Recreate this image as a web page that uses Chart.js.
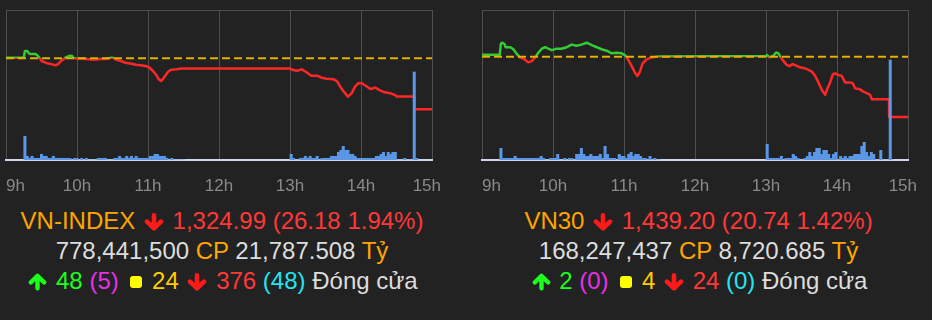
<!DOCTYPE html>
<html lang="vi">
<head>
<meta charset="utf-8">
<script src="https://cdn.jsdelivr.net/npm/chart.js@4.4.0/dist/chart.umd.min.js"></script>
<style>
  html, body { margin: 0; padding: 0; background: #222; width: 932px; height: 320px; overflow: hidden; }
  .box { position: absolute; top: 0; width: 466px; height: 200px; }
  .info { position: absolute; top: 206px; font: 24px/30px "Liberation Sans", Arial, sans-serif; color: #ddd; text-align: center; white-space: nowrap; }
  .or { color: #ffa500; }
  .rd { color: #ff3838; }
  .gr { color: #1cff1c; }
  .mg { color: #e830e8; }
  .yl { color: #ffcc00; }
  .cy { color: #22e5f0; }
  .arr { vertical-align: -2px; margin: 0 2px; fill: none; stroke-width: 4.6; stroke-linecap: round; stroke-linejoin: round; }
  .dn { stroke: #ff1a1a; }
  .up { stroke: #1cff1c; }
  .sq { display: inline-block; width: 12px; height: 12px; background: #ffff00; border-radius: 3px; vertical-align: 1px; margin: 0 3px 0 5px; }
</style>
</head>
<body>
<div class="box" style="left:0"><canvas id="vnindex" width="466" height="200"></canvas></div>
<div class="box" style="left:476px"><canvas id="vn30" width="466" height="200"></canvas></div>

<div class="info" style="left:0;width:444px">
  <div><span class="or">VN-INDEX</span> <svg class="arr dn" viewBox="0 0 20 18" width="20" height="18"><path d="M10 2.3V15.2M3 8.6L10 15.4L17 8.6"/></svg> <span class="rd">1,324.99 (26.18 1.94%)</span></div>
  <div>778,441,500 <span class="or">CP</span> 21,787.508 <span class="or">Tỷ</span></div>
  <div><svg class="arr up" viewBox="0 0 20 18" width="19" height="18"><path d="M10 15.7V2.8M3 9.4L10 2.6L17 9.4"/></svg> <span class="gr">48</span> <span class="mg">(5)</span> <span class="sq"></span> <span class="yl">24</span> <svg class="arr dn" viewBox="0 0 20 18" width="20" height="18"><path d="M10 2.3V15.2M3 8.6L10 15.4L17 8.6"/></svg> <span class="rd">376</span> <span class="cy">(48)</span> Đóng cửa</div>
</div>

<div class="info" style="left:476px;width:445px">
  <div><span class="or">VN30</span> <svg class="arr dn" viewBox="0 0 20 18" width="20" height="18"><path d="M10 2.3V15.2M3 8.6L10 15.4L17 8.6"/></svg> <span class="rd">1,439.20 (20.74 1.42%)</span></div>
  <div>168,247,437 <span class="or">CP</span> 8,720.685 <span class="or">Tỷ</span></div>
  <div><svg class="arr up" viewBox="0 0 20 18" width="19" height="18"><path d="M10 15.7V2.8M3 9.4L10 2.6L17 9.4"/></svg> <span class="gr">2</span> <span class="mg">(0)</span> <span class="sq"></span> <span class="yl">4</span> <svg class="arr dn" viewBox="0 0 20 18" width="20" height="18"><path d="M10 2.3V15.2M3 8.6L10 15.4L17 8.6"/></svg> <span class="rd">24</span> <span class="cy">(0)</span> Đóng cửa</div>
</div>

<script>
// thoi gian tinh bang phut ke tu 9h00
const hourTicks = ['9h', '10h', '11h', '12h', '13h', '14h', '15h'];

// VN-INDEX
const vnRef = 1351.17;
const vnTimes = [0, 15, 16, 18, 19, 20, 25, 27, 29, 30, 34, 38, 42, 44, 46, 49, 51, 54, 56, 57, 60, 62, 68, 72, 76, 80, 85, 89, 91, 93, 97, 101, 106, 110, 114, 118, 121, 124, 127, 129, 131, 132, 135, 137, 139, 144, 149, 150,
  240, 242, 246, 250, 254, 258, 263, 267, 271, 277, 280, 282, 285, 289, 292, 295, 298, 301, 304, 308, 312, 316, 320, 325, 329, 330, 345, 345, 360];
const vnPrices = [1351.5, 1351.5, 1354.9, 1354.9, 1354.0, 1353.4, 1353.4, 1352.4, 1350.8, 1349.8, 1348.8, 1348.2, 1347.6, 1348.2, 1349.5, 1350.8, 1351.8, 1352.5, 1352.3, 1351.3, 1351.0, 1351.0, 1350.8, 1350.5, 1350.5, 1350.8, 1350.8, 1351.5, 1351.3, 1350.5, 1349.8, 1348.9, 1348.4, 1347.9, 1347.6, 1347.2, 1346.5, 1344.8, 1342.6, 1340.5, 1339.5, 1340.0, 1342.6, 1344.3, 1345.2, 1345.5, 1346.0, 1346.0,
  1346.0, 1345.3, 1344.8, 1345.5, 1344.0, 1342.2, 1342.2, 1341.2, 1340.7, 1340.4, 1339.2, 1337.1, 1334.4, 1331.5, 1333.2, 1336.6, 1338.5, 1338.3, 1337.1, 1335.4, 1336.1, 1334.7, 1333.7, 1333.2, 1332.3, 1331.5, 1331.5, 1324.99, 1324.99];
// khoi luong moi 2 phut (trieu CP), phien sang tu 9h15, phien chieu tu 13h00
const vnAmVol = [16.6, 2.6, 1.2, 2.6, 1.2, 1.2, 1.2, 4.0, 2.6, 2.6, 1.2, 1.2, 2.6, 1.2, 1.2, 1.2, 1.2, 1.2, 1.2, 1.2,
  0, 1.2, 1.2, 0, 1.2, 0, 1.2, 0, 0, 0, 0, 1.2, 1.2, 1.2, 1.2, 0, 0, 0, 1.2, 1.2,
  2.6, 1.2, 1.2, 2.6, 1.2, 2.6, 1.2, 2.6, 1.2, 1.2, 1.2, 1.2, 1.2, 2.6, 2.6, 4.0, 4.0, 2.6, 2.6, 2.6,
  1.2, 0, 1.2, 0, 0, 0, 0, 0];
const vnPmVol = [4.0, 1.2, 0, 0, 1.2, 1.2, 2.6, 1.2, 2.6, 1.2, 1.2, 2.6, 0, 1.2, 1.2, 1.2, 1.2, 2.6, 2.6, 2.6,
  5.4, 6.8, 9.6, 6.8, 6.8, 4.0, 4.0, 2.6, 1.2, 1.2, 1.2, 1.2, 1.2, 1.2, 1.2, 1.2, 2.6, 2.6, 4.0, 5.4,
  2.6, 5.4, 4.0, 5.4, 5.4, 0, 0, 0, 1.2, 0, 0, 0, 61.6, 1.2];

// VN30
const v30Ref = 1459.94;
const v30Times = [0, 15, 16, 17, 19, 20, 24, 26.5, 29, 32, 35.5, 39, 42, 45, 47.6, 50.4, 53.3, 56, 59, 63, 67, 71.6, 75.8, 80, 84, 88.5, 92.7, 97, 101, 105.4, 109.6, 113.8, 118, 121, 123.7, 126.5, 129.3, 131.3, 133.5, 135.8, 139.2, 143.4, 150,
  240, 241, 243, 246, 248.5, 251, 252.5, 254.7, 257.5, 259.8, 262.6, 266, 268.8, 273, 276, 278.7, 281.5, 284.3, 287.2, 290, 292, 294.2, 296.5, 298.4, 301.2, 304, 306.8, 311, 313.3, 315.3, 319.5, 322.3, 325.2, 328, 329.4, 344, 344, 360];
const v30Prices = [1460.6, 1460.6, 1464.5, 1464.75, 1464.3, 1463.2, 1463.2, 1462.5, 1461.1, 1459.7, 1459.2, 1458.0, 1458.4, 1459.7, 1461.3, 1462.6, 1463.2, 1462.7, 1462.2, 1462.7, 1462.7, 1463.2, 1464.1, 1463.7, 1464.1, 1464.75, 1463.9, 1463.2, 1462.5, 1462.0, 1461.1, 1461.3, 1461.1, 1460.4, 1458.8, 1456.7, 1454.4, 1453.3, 1454.8, 1457.7, 1459.0, 1459.7, 1460.05,
  1460.2, 1460.5, 1459.7, 1460.2, 1461.4, 1460.9, 1459.6, 1458.5, 1457.1, 1456.7, 1457.4, 1456.8, 1456.3, 1455.9, 1455.4, 1454.8, 1453.4, 1451.1, 1448.5, 1446.8, 1449.1, 1451.1, 1453.9, 1454.2, 1453.6, 1453.4, 1451.1, 1451.1, 1450.8, 1449.1, 1448.7, 1447.9, 1447.4, 1446.8, 1445.3, 1445.3, 1439.2, 1439.2];
const v30AmVol = [2.34, 0.34, 0.34, 0.34, 0.34, 0.34, 0.74, 0.34, 0.34, 0.34, 0.34, 0.34, 0.34, 0.34, 0.34, 0.34, 0.34, 0.74, 0.34, 0,
  0, 0.34, 0.34, 0.34, 1.14, 0, 0, 0.34, 0, 0.34, 0.34, 0, 1.14, 1.14, 2.34, 1.14, 0.74, 0.74, 1.14, 0.74,
  0.74, 0.74, 1.14, 0.34, 2.74, 1.14, 0.34, 0.34, 0.34, 0, 1.14, 0.74, 0.74, 0.34, 1.14, 1.54, 0.74, 1.14, 1.14, 0.74,
  0.34, 0.34, 0, 0.74, 0, 0.34, 0, 0];
const v30PmVol = [3.14, 0.34, 0.34, 0.34, 0.34, 0.34, 0.74, 0, 0.34, 0.34, 0.34, 1.14, 0.74, 0.34, 0, 0, 0.34, 0.74, 1.54, 0.74,
  1.54, 2.34, 2.34, 1.14, 1.94, 1.94, 1.14, 0.34, 1.14, 1.54, 0, 0.74, 0.34, 0.74, 0.34, 0.74, 0.74, 1.14, 1.14, 1.14,
  2.74, 3.54, 1.54, 0.74, 1.54, 1.14, 0, 0, 1.94, 0, 0, 0, 20, 0];

const amStart = 16, pmStart = 241, slotMin = 2;
const GREEN = '#33cc33', RED = '#ff2626', GOLD = '#e2b000', BLUE = '#5a97e6', GRID = '#4f4f4f';
const FONT = '"Liberation Sans", Arial, sans-serif';

// nhan 15h bi day vao trong giong highcharts
const justifyLast = {
  id: 'justifyLast',
  beforeDraw(chart) {
    const items = chart.scales.x.getLabelItems();
    const last = items[items.length - 1];
    last.options.translation[0] = chart.chartArea.right + 9;
  }
};

function buildChart(id, times, prices, ref, yMin, yMax, amVol, pmVol, volMax) {
  const line = times.map((t, i) => ({ x: t, y: prices[i] }));
  const vols = amVol.map((v, i) => ({ x: amStart + i * slotMin, y: v }))
    .concat(pmVol.map((v, i) => ({ x: pmStart + i * slotMin, y: v })));

  // xanh tren tham chieu, do duoi tham chieu
  const splitColor = ctx => {
    const chart = ctx.chart;
    const area = chart.chartArea;
    if (!area) return RED;
    const yRef = chart.scales.y.getPixelForValue(ref);
    const t = Math.min(1, Math.max(0, (yRef - area.top) / (area.bottom - area.top)));
    const g = chart.ctx.createLinearGradient(0, area.top, 0, area.bottom);
    g.addColorStop(0, GREEN);
    g.addColorStop(t, GREEN);
    g.addColorStop(t, RED);
    g.addColorStop(1, RED);
    return g;
  };

  return new Chart(document.getElementById(id), {
    type: 'line',
    data: {
      datasets: [
        { type: 'bar', data: vols, yAxisID: 'v', backgroundColor: BLUE, borderWidth: 0,
          barPercentage: 1, categoryPercentage: 1, order: 1 },
        { data: [{ x: 0, y: ref }, { x: 360, y: ref }], borderColor: GOLD, borderDash: [8, 4],
          borderWidth: 2, pointRadius: 0, order: 2 },
        { data: line, borderColor: splitColor, borderWidth: 2.5, pointRadius: 0, tension: 0,
          borderJoinStyle: 'round', order: 3 }
      ]
    },
    options: {
      responsive: false,
      animation: false,
      devicePixelRatio: 1,
      layout: { padding: { left: 6, right: 34, top: 10, bottom: 0 } },
      plugins: { legend: { display: false }, tooltip: { enabled: false } },
      scales: {
        x: {
          type: 'linear', min: 0, max: 360, offset: false,
          ticks: {
            stepSize: 60, align: 'inner', padding: 16, color: '#8a8a8a', maxRotation: 0, autoSkip: false,
            font: { family: FONT, size: 17 },
            callback: v => hourTicks[v / 60]
          },
          grid: { color: GRID, drawTicks: false, offset: false },
          border: { color: '#cfd6e8', width: 2 },
          afterFit: s => { s.paddingLeft = 0; s.paddingRight = 0; s.height = 40; }
        },
        xTop: {
          axis: 'x', type: 'linear', position: 'top', min: 0, max: 360,
          ticks: { display: false },
          grid: { display: false, drawTicks: false },
          border: { color: GRID, width: 1 }
        },
        y: { display: false, min: yMin, max: yMax },
        v: { axis: 'y', position: 'left', display: false, min: 0, max: volMax }
      }
    },
    plugins: [justifyLast]
  });
}

buildChart('vnindex', vnTimes, vnPrices, vnRef, 1298.96, 1375.97, vnAmVol, vnPmVol, 105);
buildChart('vn30', v30Times, v30Prices, v30Ref, 1424.42, 1476.0, v30AmVol, v30PmVol, 30);
</script>
</body>
</html>
